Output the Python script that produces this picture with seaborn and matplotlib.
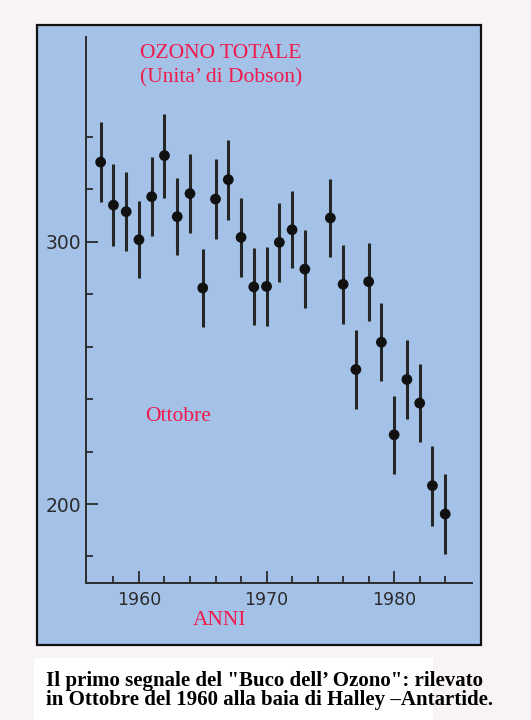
import matplotlib
matplotlib.use("Agg")
import matplotlib.pyplot as plt
from matplotlib.patches import Rectangle
from matplotlib.ticker import FixedLocator
import seaborn as sns
import pandas as pd

# ---- data ----
years = [1957, 1958, 1959, 1960, 1961, 1962, 1963, 1964, 1965, 1966,
         1967, 1968, 1969, 1970, 1971, 1972, 1973, 1975, 1976, 1977,
         1978, 1979, 1980, 1981, 1982, 1983, 1984]
ozone = [330.4, 314.0, 311.5, 300.8, 317.2, 332.9, 309.6, 318.4, 282.4, 316.3,
         323.7, 301.7, 282.8, 283.0, 299.8, 304.6, 289.6, 309.1, 283.8, 251.3,
         284.8, 261.7, 226.4, 247.5, 238.5, 207.0, 196.2]
errors = [15.3, 15.7, 15.0, 14.7, 15.1, 16.0, 14.6, 15.1, 14.7, 15.2,
          15.2, 15.1, 14.7, 15.0, 15.0, 14.7, 15.0, 14.8, 15.0, 15.0,
          14.9, 14.9, 14.9, 15.2, 14.9, 15.2, 15.1]
x_major = [1960, 1970, 1980]
x_minor = [1958, 1962, 1964, 1966, 1968, 1972, 1974, 1976, 1978, 1982, 1984]
y_major = [200, 300]
y_minor = [180, 220, 240, 260, 280, 320, 340]

title_line1 = "OZONO TOTALE"
title_line2 = "(Unita’ di Dobson)"
month_label = "Ottobre"
x_label = "ANNI"
caption1 = 'Il primo segnale del "Buco dell’ Ozono": rilevato'
caption2 = "in Ottobre del 1960 alla baia di Halley –Antartide."

df = pd.DataFrame({"anno": years, "ozono": ozone, "err": errors})

# ---- style ----
sns.set_style("ticks")
plt.rcParams["font.family"] = ["DejaVu Sans"]

W, H = 531, 720
fig = plt.figure(figsize=(W / 100, H / 100), dpi=100)
fig.patch.set_facecolor("#f8f3f6")

def fx(px):
    return px / W

def fy(py):
    return 1 - py / H

blue = "#a4c2e8"
red = "#ee1a4c"
ink = "#2b2b2b"

# blue panel with black frame
fig.patches.append(Rectangle((fx(37), fy(645)), fx(481) - fx(37), fy(25) - fy(645),
                             transform=fig.transFigure, facecolor=blue,
                             edgecolor="#111111", linewidth=1.6, zorder=-2))
# white caption box
fig.patches.append(Rectangle((fx(34), 0), fx(433) - fx(34), fy(658),
                             transform=fig.transFigure, facecolor="white",
                             edgecolor="none", zorder=-2))

ax = fig.add_axes([fx(86), fy(582.7), fx(472) - fx(86), fy(37.3) - fy(582.7)])
ax.set_facecolor("none")
ax.set_zorder(2)

ax.errorbar(df["anno"], df["ozono"], yerr=df["err"], fmt="none",
            ecolor="#262626", elinewidth=2.2, capsize=0, zorder=2)
sns.scatterplot(data=df, x="anno", y="ozono", ax=ax, color="#111111",
                s=60, edgecolor="none", zorder=3, legend=False)

ax.set_xlim(1955.85, 1986.1)
ax.set_ylim(170, 378)
ax.xaxis.set_major_locator(FixedLocator(x_major))
ax.xaxis.set_minor_locator(FixedLocator(x_minor))
ax.yaxis.set_major_locator(FixedLocator(y_major))
ax.yaxis.set_minor_locator(FixedLocator(y_minor))
ax.set_xticklabels([str(v) for v in x_major])
ax.set_yticklabels([str(v) for v in y_major])

ax.tick_params(axis="both", which="major", direction="in", length=8.5, width=1.3,
               color=ink, labelsize=12.5, labelcolor=ink)
ax.tick_params(axis="y", which="major", labelsize=13.5)
ax.tick_params(axis="both", which="minor", direction="in", length=5, width=1.3,
               color=ink)
ax.tick_params(axis="x", which="major", pad=6)
ax.tick_params(axis="y", which="major", pad=3.5)

for side in ["top", "right"]:
    ax.spines[side].set_visible(False)
for side in ["left", "bottom"]:
    ax.spines[side].set_color(ink)
    ax.spines[side].set_linewidth(1.4)
ax.set_xlabel("")
ax.set_ylabel("")

serif = ["Liberation Serif", "DejaVu Serif"]
fig.text(fx(140), fy(57.5), title_line1, color=red, fontsize=15.5, family=serif,
         ha="left", va="baseline")
fig.text(fx(140), fy(82), title_line2, color=red, fontsize=15.5, family=serif,
         ha="left", va="baseline")
fig.text(fx(145), fy(421), month_label, color=red, fontsize=15.5, family=serif,
         ha="left", va="baseline")
fig.text(fx(193), fy(625), x_label, color=red, fontsize=15.5, family=serif,
         ha="left", va="baseline")

fig.text(fx(45.7), fy(686), caption1, color="black", fontsize=15, family=serif,
         weight="bold", ha="left", va="baseline")
fig.text(fx(45.7), fy(705), caption2, color="black", fontsize=15, family=serif,
         weight="bold", ha="left", va="baseline")

fig.savefig("out.png", dpi=100, facecolor=fig.get_facecolor())
